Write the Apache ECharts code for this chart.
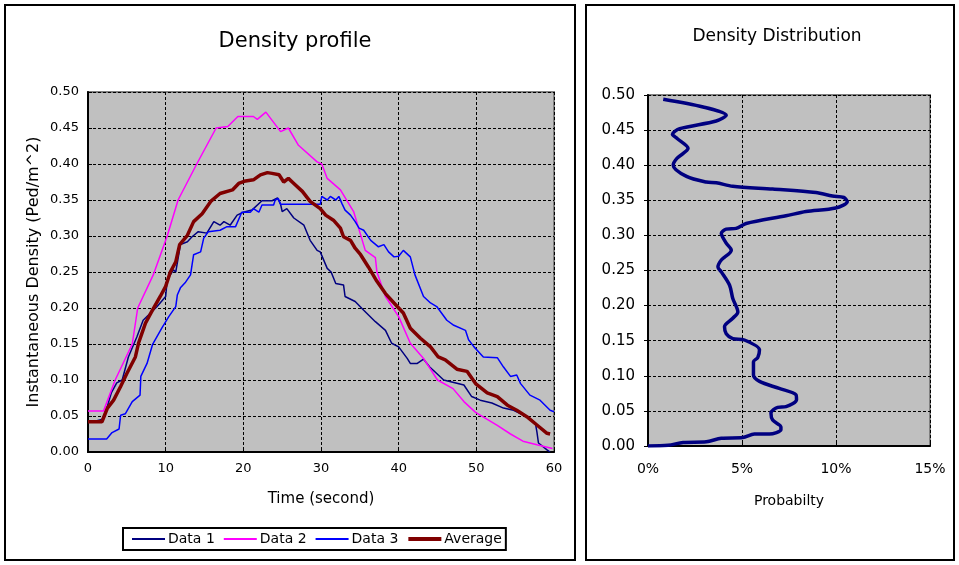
<!DOCTYPE html>
<html><head><meta charset="utf-8">
<script src="https://cdn.jsdelivr.net/npm/echarts@6/dist/echarts.min.js"></script>
<style>html,body{margin:0;padding:0;background:#fff}#c{width:959px;height:565px}</style>
</head><body><div id="c"></div>
<script>
// ---- Data: Density profile (time in seconds, density in Ped/m^2) ----
const data1 = [[1,0.043],[1.8,0.045],[2.4,0.06],[3,0.082],[3.7,0.096],[4.4,0.10],[5.2,0.132],[6.3,0.16],[7.1,0.183],[8.9,0.202],[10,0.216],[10.2,0.239],[11,0.253],[11.3,0.25],[11.9,0.288],[12.8,0.292],[13.4,0.299],[14.2,0.306],[15.3,0.304],[16.2,0.32],[17,0.315],[17.5,0.32],[18.3,0.315],[19.2,0.329],[20,0.333],[21.1,0.336],[22.4,0.349],[23.7,0.349],[24.4,0.353],[24.8,0.344],[25,0.334],[25.6,0.338],[26.5,0.325],[27.8,0.315],[28.6,0.294],[29.5,0.28],[29.9,0.278],[30.8,0.255],[31.3,0.25],[31.9,0.234],[32.9,0.232],[33.1,0.216],[34.4,0.209],[35.5,0.197],[37,0.181],[38.3,0.169],[39.1,0.151],[40,0.146],[41.1,0.13],[41.5,0.123],[42.4,0.123],[43.2,0.129],[44,0.118],[45.8,0.10],[48.4,0.093],[49.4,0.077],[50.5,0.072],[52,0.068],[53.5,0.061],[54.8,0.058],[56.5,0.049],[57.6,0.04],[57.8,0.028],[58,0.0125],[59.1,0.003],[59.5,0.0]];
const data2 = [[0,0.057],[2,0.057],[3.5,0.10],[5.7,0.15],[6.4,0.20],[8.4,0.246],[10.2,0.30],[11.6,0.35],[14,0.40],[16.5,0.45],[18,0.452],[19.3,0.466],[21.3,0.466],[21.8,0.462],[22.9,0.472],[24.8,0.445],[25.8,0.45],[27.1,0.426],[29.5,0.403],[30.1,0.40],[30.8,0.38],[32.5,0.364],[34.2,0.334],[35.7,0.28],[37,0.27],[37.2,0.25],[38.3,0.216],[40,0.188],[41.5,0.151],[43.2,0.13],[45,0.10],[47,0.088],[48.4,0.07],[49.9,0.055],[52.7,0.037],[54.4,0.025],[56,0.015],[57.8,0.01],[59.8,0.005]];
const data3 = [[0,0.018],[2.4,0.018],[3.1,0.027],[4,0.032],[4.2,0.051],[4.8,0.053],[5.7,0.07],[6.7,0.079],[6.8,0.105],[7.6,0.123],[8.3,0.149],[9.5,0.172],[10.4,0.188],[11.3,0.202],[11.5,0.218],[11.9,0.228],[12.5,0.235],[13.2,0.246],[13.6,0.274],[14.5,0.278],[14.9,0.297],[15.5,0.306],[17,0.308],[17.9,0.313],[19,0.313],[19.8,0.333],[20.9,0.333],[21.3,0.338],[22,0.333],[22.4,0.343],[23.9,0.343],[24.1,0.35],[24.5,0.352],[24.8,0.344],[29.9,0.344],[30.1,0.355],[30.8,0.35],[31.2,0.355],[31.9,0.35],[32.3,0.355],[32.7,0.345],[33.1,0.336],[33.8,0.329],[34.4,0.32],[34.9,0.311],[35.5,0.308],[36.4,0.294],[37.4,0.285],[38.1,0.288],[38.7,0.278],[39.4,0.271],[40,0.272],[40.6,0.28],[41.5,0.271],[42.1,0.246],[43.2,0.216],[44.1,0.207],[44.9,0.202],[46.2,0.183],[47.1,0.176],[48.6,0.169],[49,0.156],[49.7,0.146],[50.9,0.132],[52.7,0.131],[53.5,0.118],[54.4,0.105],[55.2,0.107],[55.7,0.095],[56.9,0.079],[58.2,0.072],[59.5,0.058],[60,0.056]];
const average = [[0,0.042],[1.8,0.042],[2.5,0.061],[3.3,0.072],[4.2,0.091],[5,0.109],[6.1,0.132],[6.5,0.151],[7.4,0.179],[8.3,0.197],[9.3,0.216],[10,0.23],[10.6,0.25],[11.3,0.264],[11.8,0.288],[12.8,0.301],[13.6,0.32],[14.7,0.331],[15.8,0.348],[17,0.359],[18.6,0.364],[19.4,0.373],[20.1,0.376],[21.3,0.378],[22.2,0.385],[23.1,0.388],[23.7,0.387],[24.6,0.385],[25.2,0.375],[25.8,0.38],[26.5,0.373],[27.6,0.362],[28.6,0.348],[29.9,0.338],[30.6,0.329],[31.6,0.322],[32.5,0.311],[32.9,0.299],[33.8,0.294],[34.4,0.283],[35.1,0.274],[36.1,0.257],[37.2,0.237],[38.3,0.22],[39.4,0.207],[40.6,0.193],[41.5,0.172],[42.8,0.158],[44.1,0.146],[45.1,0.132],[46,0.128],[47.5,0.115],[48.8,0.112],[49.9,0.095],[51.4,0.082],[52.7,0.077],[54,0.065],[55.2,0.058],[56.5,0.049],[57.8,0.0375],[59.1,0.026],[59.5,0.025]];

// ---- Data: Density distribution (probability, density) ----
const distProb = [0.0081,0.0293,0.0416,0.0363,0.0169,0.013,0.0155,0.0213,0.0155,0.0134,0.0205,0.031,0.0363,0.0451,0.0663,0.0893,0.0981,0.1042,0.106,0.0998,0.084,0.0734,0.0522,0.0469,0.0416,0.039,0.0416,0.0443,0.039,0.0372,0.039,0.0434,0.0451,0.0478,0.0451,0.0407,0.0416,0.0451,0.0513,0.0593,0.0584,0.0561,0.0561,0.0593,0.0698,0.0787,0.079,0.0734,0.069,0.0654,0.0663,0.0707,0.0707,0.0646,0.0566,0.0504,0.039,0.031,0.0187,0.0107,0.0];
const distDensity = [0.494,0.483,0.471,0.463,0.452,0.444,0.438,0.424,0.41,0.40,0.384,0.376,0.375,0.370,0.366,0.361,0.356,0.354,0.348,0.339,0.334,0.328,0.317,0.310,0.309,0.303,0.289,0.279,0.265,0.255,0.248,0.229,0.21,0.191,0.182,0.17,0.16,0.153,0.151,0.137,0.126,0.12,0.101,0.092,0.082,0.073,0.066,0.056,0.055,0.047,0.037,0.027,0.023,0.017,0.017,0.012,0.011,0.006,0.005,0.001,0.0];

// ---- Tick labels ----
const timeTicks = ['0','10','20','30','40','50','60'];
const probTicks = ['0%','5%','10%','15%'];

const FONT = 'DejaVu Sans';
const distPairs = distProb.map((p,i)=>[p, distDensity[i]]);

const chart = echarts.init(document.getElementById('c'), null, {renderer:'canvas'});
const dashed = {show:true, lineStyle:{color:'#000', type:[3,2], width:1}};
const option = {
  animation:false,
  backgroundColor:'#fff',
  textStyle:{fontFamily:FONT},
  title:[
    {text:'Density profile', left:290, top:26, textAlign:'center',
     textStyle:{fontSize:21, fontWeight:'normal', color:'#000', fontFamily:FONT}},
    {text:'Density Distribution', left:772, top:23, textAlign:'center',
     textStyle:{fontSize:17, fontWeight:'normal', color:'#000', fontFamily:FONT}}
  ],
  legend:{
    data:[
      {name:'Data 1', lineStyle:{width:2}},
      {name:'Data 2', lineStyle:{width:2}},
      {name:'Data 3', lineStyle:{width:2}},
      {name:'Average', lineStyle:{width:4}}
    ],
    left:123, top:528, width:380, height:18,
    padding:[4,4,4,8],
    borderColor:'#000', borderWidth:2,
    itemWidth:33, itemHeight:12, itemGap:8,
    itemStyle:{color:'rgba(0,0,0,0)', borderWidth:0, opacity:0},
    textStyle:{fontSize:14, color:'#000', fontFamily:FONT, padding:[0,0,0,-2]}
  },
  grid:[
    {left:88, top:92, width:466, height:360, show:true, backgroundColor:'#c0c0c0', borderColor:'#808080', borderWidth:2},
    {left:648, top:95, width:282, height:351, show:true, backgroundColor:'#c0c0c0', borderColor:'#808080', borderWidth:2}
  ],
  xAxis:[
    {type:'value', gridIndex:0, min:0, max:60, interval:10,
     name:'Time (second)', nameLocation:'middle', nameGap:40,
     nameTextStyle:{fontSize:15, color:'#000', fontFamily:FONT},
     axisLine:{show:true, lineStyle:{color:'#000', width:2}},
     axisTick:{show:true, inside:true, length:4, lineStyle:{color:'#000'}},
     axisLabel:{fontSize:13, color:'#000', margin:10, formatter:(v)=>timeTicks[Math.round(v/10)]},
     splitLine:dashed},
    {type:'value', gridIndex:1, min:0, max:0.15, interval:0.05,
     name:'Probabilty', nameLocation:'middle', nameGap:48,
     nameTextStyle:{fontSize:14, color:'#000', fontFamily:FONT},
     axisLine:{show:true, lineStyle:{color:'#000', width:2}},
     axisTick:{show:true, inside:true, length:4, lineStyle:{color:'#000'}},
     axisLabel:{fontSize:14, color:'#000', margin:16, formatter:(v)=>probTicks[Math.round(v/0.05)]},
     splitLine:dashed}
  ],
  yAxis:[
    {type:'value', gridIndex:0, min:0, max:0.5, interval:0.05,
     name:'Instantaneous Density (Ped/m^2)', nameLocation:'middle', nameGap:46,
     nameTextStyle:{fontSize:16, color:'#000', fontFamily:FONT},
     axisLine:{show:true, lineStyle:{color:'#000', width:2}},
     axisTick:{show:true, inside:true, length:4, lineStyle:{color:'#000'}},
     axisLabel:{fontSize:13, color:'#000', margin:9, formatter:(v)=>v.toFixed(2)},
     splitLine:dashed},
    {type:'value', gridIndex:1, min:0, max:0.5, interval:0.05,
     axisLine:{show:true, lineStyle:{color:'#000', width:2}},
     axisTick:{show:true, inside:false, length:4, lineStyle:{color:'#000'}},
     axisLabel:{fontSize:15, color:'#000', margin:13, formatter:(v)=>v.toFixed(2)},
     splitLine:dashed}
  ],
  series:[
    {name:'Data 1', type:'line', xAxisIndex:0, yAxisIndex:0, data:data1, symbol:'none',
     lineStyle:{color:'#000080', width:1.5}, itemStyle:{color:'#000080'}},
    {name:'Data 2', type:'line', xAxisIndex:0, yAxisIndex:0, data:data2, symbol:'none',
     lineStyle:{color:'#ff00ff', width:1.5}, itemStyle:{color:'#ff00ff'}},
    {name:'Data 3', type:'line', xAxisIndex:0, yAxisIndex:0, data:data3, symbol:'none',
     lineStyle:{color:'#0000ff', width:1.5}, itemStyle:{color:'#0000ff'}},
    {name:'Average', type:'line', xAxisIndex:0, yAxisIndex:0, data:average, symbol:'none',
     lineStyle:{color:'#800000', width:3.5}, itemStyle:{color:'#800000'}},
    {name:'Distribution', type:'line', xAxisIndex:1, yAxisIndex:1, data:distPairs, symbol:'none', smooth:0.3,
     lineStyle:{color:'#000080', width:3.5}, itemStyle:{color:'#000080'}}
  ],
  graphic:[
    {type:'rect', shape:{x:5, y:5, width:570, height:555}, style:{fill:null, stroke:'#000', lineWidth:2}, silent:true, z:-1},
    {type:'rect', shape:{x:586, y:5, width:368, height:555}, style:{fill:null, stroke:'#000', lineWidth:2}, silent:true, z:-1}
  ]
};
chart.setOption(option);
</script>
</body></html>
